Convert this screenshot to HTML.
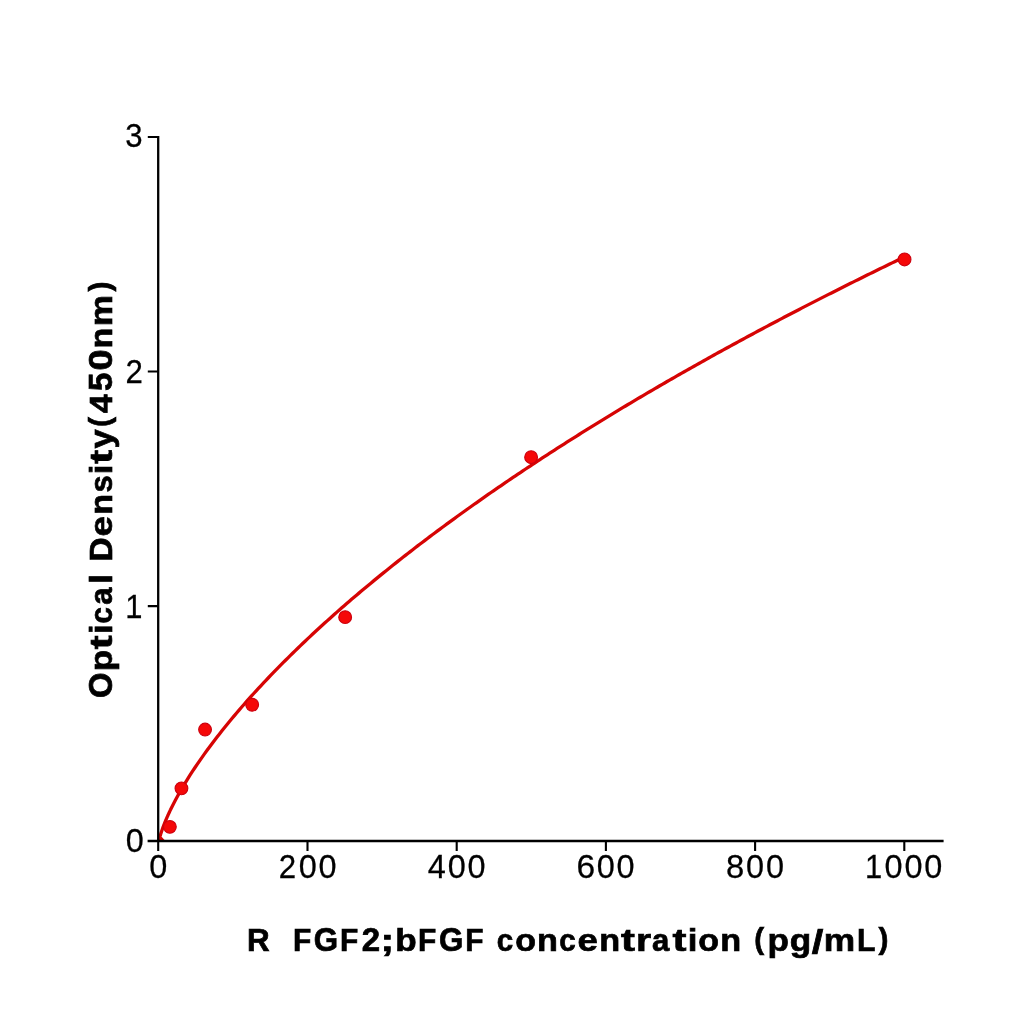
<!DOCTYPE html>
<html><head><meta charset="utf-8"><style>
html,body{margin:0;padding:0;background:#fff;}
svg{display:block;}
text{font-family:"Liberation Sans",sans-serif;fill:#000;}
</style></head><body>
<svg width="1024" height="1024" viewBox="0 0 1024 1024">
<rect width="1024" height="1024" fill="#fff"/>

<path d="M159.0,841.5 L159.4,836 L160.38,835.25 L160.63,834.40 L160.88,833.58 L161.14,832.78 L161.39,832.00 L161.64,831.23 L161.89,830.48 L162.15,829.74 L162.40,829.02 L162.65,828.31 L162.91,827.61 L163.16,826.92 L163.41,826.25 L163.67,825.58 L163.92,824.92 L164.17,824.26 L164.42,823.62 L164.68,822.98 L164.93,822.35 L165.18,821.73 L165.44,821.11 L165.69,820.50 L165.94,819.90 L166.20,819.30 L166.45,818.70 L166.70,818.11 L166.95,817.53 L167.21,816.95 L167.46,816.38 L167.71,815.81 L167.97,815.24 L168.22,814.68 L168.47,814.13 L168.73,813.57 L168.98,813.02 L169.23,812.48 L169.48,811.94 L169.74,811.40 L169.99,810.86 L170.24,810.33 L170.50,809.81 L170.75,809.28 L171.00,808.76 L171.26,808.24 L171.51,807.72 L171.76,807.21 L172.01,806.70 L172.27,806.19 L172.52,805.69 L172.77,805.19 L173.03,804.69 L175.47,799.98 L177.92,795.47 L180.36,791.12 L182.81,786.91 L185.26,782.83 L187.70,778.86 L190.15,774.98 L192.59,771.20 L195.04,767.50 L197.49,763.88 L199.93,760.32 L202.38,756.83 L204.82,753.40 L207.27,750.03 L209.72,746.71 L212.16,743.44 L214.61,740.21 L217.06,737.03 L219.50,733.90 L221.95,730.80 L224.39,727.74 L226.84,724.72 L229.29,721.73 L231.73,718.77 L234.18,715.85 L236.62,712.96 L239.07,710.10 L241.52,707.27 L243.96,704.46 L246.41,701.68 L248.85,698.93 L251.30,696.20 L253.75,693.50 L256.19,690.82 L258.64,688.16 L261.08,685.52 L263.53,682.90 L265.98,680.31 L268.42,677.74 L270.87,675.18 L273.31,672.64 L275.76,670.13 L278.21,667.63 L280.65,665.15 L283.10,662.68 L285.55,660.23 L287.99,657.80 L290.44,655.39 L292.88,652.99 L295.33,650.61 L297.78,648.24 L300.22,645.88 L302.67,643.54 L305.11,641.22 L307.56,638.90 L310.01,636.60 L312.45,634.32 L314.90,632.05 L317.34,629.79 L319.79,627.54 L322.24,625.31 L324.68,623.08 L327.13,620.87 L329.57,618.67 L332.02,616.49 L334.47,614.31 L336.91,612.14 L339.36,609.99 L341.80,607.85 L344.25,605.71 L346.70,603.59 L349.14,601.48 L351.59,599.37 L354.03,597.28 L356.48,595.20 L358.93,593.13 L361.37,591.06 L363.82,589.01 L366.27,586.96 L368.71,584.93 L371.16,582.90 L373.60,580.88 L376.05,578.87 L378.50,576.87 L380.94,574.88 L383.39,572.89 L385.83,570.91 L388.28,568.95 L390.73,566.99 L393.17,565.03 L395.62,563.09 L398.06,561.15 L400.51,559.22 L402.96,557.30 L405.40,555.39 L407.85,553.48 L410.29,551.58 L412.74,549.69 L415.19,547.81 L417.63,545.93 L420.08,544.06 L422.52,542.19 L424.97,540.33 L427.42,538.48 L429.86,536.64 L432.31,534.80 L434.76,532.97 L437.20,531.15 L439.65,529.33 L442.09,527.52 L444.54,525.71 L446.99,523.91 L449.43,522.12 L451.88,520.33 L454.32,518.55 L456.77,516.77 L459.22,515.00 L461.66,513.24 L464.11,511.48 L466.55,509.73 L469.00,507.98 L471.45,506.24 L473.89,504.51 L476.34,502.78 L478.78,501.05 L481.23,499.33 L483.68,497.62 L486.12,495.91 L488.57,494.21 L491.01,492.51 L493.46,490.82 L495.91,489.13 L498.35,487.44 L500.80,485.77 L503.25,484.09 L505.69,482.43 L508.14,480.76 L510.58,479.10 L513.03,477.45 L515.48,475.80 L517.92,474.16 L520.37,472.52 L522.81,470.88 L525.26,469.25 L527.71,467.63 L530.15,466.01 L532.60,464.39 L535.04,462.78 L537.49,461.17 L539.94,459.57 L542.38,457.97 L544.83,456.38 L547.27,454.79 L549.72,453.20 L552.17,451.62 L554.61,450.04 L557.06,448.47 L559.50,446.90 L561.95,445.33 L564.40,443.77 L566.84,442.21 L569.29,440.66 L571.73,439.11 L574.18,437.57 L576.63,436.03 L579.07,434.49 L581.52,432.96 L583.97,431.43 L586.41,429.90 L588.86,428.38 L591.30,426.86 L593.75,425.35 L596.20,423.84 L598.64,422.33 L601.09,420.83 L603.53,419.33 L605.98,417.83 L608.43,416.34 L610.87,414.85 L613.32,413.37 L615.76,411.88 L618.21,410.41 L620.66,408.93 L623.10,407.46 L625.55,405.99 L627.99,404.53 L630.44,403.07 L632.89,401.61 L635.33,400.15 L637.78,398.70 L640.22,397.26 L642.67,395.81 L645.12,394.37 L647.56,392.93 L650.01,391.50 L652.46,390.07 L654.90,388.64 L657.35,387.21 L659.79,385.79 L662.24,384.37 L664.69,382.96 L667.13,381.54 L669.58,380.14 L672.02,378.73 L674.47,377.33 L676.92,375.93 L679.36,374.53 L681.81,373.13 L684.25,371.74 L686.70,370.35 L689.15,368.97 L691.59,367.59 L694.04,366.21 L696.48,364.83 L698.93,363.46 L701.38,362.09 L703.82,360.72 L706.27,359.35 L708.71,357.99 L711.16,356.63 L713.61,355.27 L716.05,353.92 L718.50,352.57 L720.94,351.22 L723.39,349.87 L725.84,348.53 L728.28,347.19 L730.73,345.85 L733.18,344.52 L735.62,343.18 L738.07,341.85 L740.51,340.53 L742.96,339.20 L745.41,337.88 L747.85,336.56 L750.30,335.24 L752.74,333.93 L755.19,332.62 L757.64,331.31 L760.08,330.00 L762.53,328.70 L764.97,327.40 L767.42,326.10 L769.87,324.80 L772.31,323.51 L774.76,322.22 L777.20,320.93 L779.65,319.64 L782.10,318.35 L784.54,317.07 L786.99,315.79 L789.43,314.52 L791.88,313.24 L794.33,311.97 L796.77,310.70 L799.22,309.43 L801.67,308.16 L804.11,306.90 L806.56,305.64 L809.00,304.38 L811.45,303.13 L813.90,301.87 L816.34,300.62 L818.79,299.37 L821.23,298.12 L823.68,296.88 L826.13,295.63 L828.57,294.39 L831.02,293.16 L833.46,291.92 L835.91,290.69 L838.36,289.45 L840.80,288.22 L843.25,287.00 L845.69,285.77 L848.14,284.55 L850.59,283.33 L853.03,282.11 L855.48,280.89 L857.92,279.68 L860.37,278.46 L862.82,277.25 L865.26,276.04 L867.71,274.84 L870.16,273.63 L872.60,272.43 L875.05,271.23 L877.49,270.03 L879.94,268.83 L882.39,267.64 L884.83,266.45 L887.28,265.26 L889.72,264.07 L892.17,262.88 L894.62,261.70 L897.06,260.52 L899.51,259.33 L901.95,258.16 L904.40,256.98" fill="none" stroke="#d60404" stroke-width="3.3" stroke-linejoin="round"/>
<path d="M159.2,834 L165.2,840.8 L159.2,840.8 Z" fill="#d60404"/>
<g fill="#f50808" stroke="#cc000e" stroke-width="1.1"><circle cx="169.86" cy="826.86" r="6.4"/><circle cx="181.45" cy="788.35" r="6.4"/><circle cx="205.06" cy="729.57" r="6.4"/><circle cx="252.16" cy="704.74" r="6.4"/><circle cx="345.16" cy="617.13" r="6.4"/><circle cx="531.1" cy="457.2" r="6.4"/><circle cx="904.55" cy="259.45" r="6.4"/></g>
<g stroke="#000" stroke-width="2.3" fill="none" stroke-linecap="butt">
<path d="M158.2,135.9 L158.2,842.1"/>
<path d="M147.6,841.0 L943.6,841.0"/>
</g>
<g stroke="#000" stroke-width="2.1" fill="none" stroke-linecap="butt">
<path d="M147.8,137 L158.2,137 M147.8,606.1 L158.2,606.1 M147.8,371.5 L158.2,371.5"/>
<path d="M158.2,841 L158.2,851 M307.5,841 L307.5,851 M456.7,841 L456.7,851 M605.9,841 L605.9,851 M755.1,841 L755.1,851 M904.3,841 L904.3,851"/>
</g>
<g font-size="32" stroke="#000" stroke-width="0.25" style="filter:grayscale(1)">
<text transform="matrix(1.0141,0.0000,0.0000,1.0332,149.226,878.395)">0</text>
<text transform="matrix(0.9761,0.0000,0.0000,1.0278,278.736,878.275)">2</text>
<text transform="matrix(1.0141,0.0000,0.0000,1.0332,298.712,878.395)">0</text>
<text transform="matrix(1.0141,0.0000,0.0000,1.0332,318.613,878.395)">0</text>
<text transform="matrix(1.0150,0.0000,0.0000,1.0244,427.780,878.275)">4</text>
<text transform="matrix(1.0141,0.0000,0.0000,1.0332,447.694,878.395)">0</text>
<text transform="matrix(1.0141,0.0000,0.0000,1.0332,467.595,878.395)">0</text>
<text transform="matrix(1.0495,0.0000,0.0000,1.0332,576.448,878.395)">6</text>
<text transform="matrix(1.0141,0.0000,0.0000,1.0332,596.665,878.395)">0</text>
<text transform="matrix(1.0141,0.0000,0.0000,1.0332,616.567,878.395)">0</text>
<text transform="matrix(1.0249,0.0000,0.0000,1.0332,725.998,878.395)">8</text>
<text transform="matrix(1.0141,0.0000,0.0000,1.0332,745.996,878.395)">0</text>
<text transform="matrix(1.0141,0.0000,0.0000,1.0332,765.897,878.395)">0</text>
<text transform="matrix(0.9660,0.0000,0.0000,1.0244,864.875,878.275)">1</text>
<text transform="matrix(1.0141,0.0000,0.0000,1.0332,884.488,878.395)">0</text>
<text transform="matrix(1.0141,0.0000,0.0000,1.0332,904.390,878.395)">0</text>
<text transform="matrix(1.0141,0.0000,0.0000,1.0332,924.291,878.395)">0</text>
<text transform="matrix(0.9731,0.0000,0.0000,1.0332,125.312,147.495)">3</text>
<text transform="matrix(0.9761,0.0000,0.0000,1.0278,125.615,382.775)">2</text>
<text transform="matrix(0.9660,0.0000,0.0000,1.0244,125.251,617.775)">1</text>
<text transform="matrix(1.0141,0.0000,0.0000,1.0332,125.786,851.595)">0</text>
</g>
<g font-size="32" font-weight="bold" stroke="#000" stroke-width="0.7" style="filter:grayscale(1)">
<text transform="matrix(0.9801,0.0000,0.0000,1.0050,246.900,950.950)">R</text>
<text transform="matrix(0.9353,0.0000,0.0000,1.0050,292.906,950.950)">F</text>
<text transform="matrix(0.9786,0.0000,0.0000,1.0143,313.697,951.076)">G</text>
<text transform="matrix(0.9353,0.0000,0.0000,1.0050,339.993,950.950)">F</text>
<text transform="matrix(1.0312,0.0000,0.0000,1.0087,361.842,950.950)">2</text>
<text transform="matrix(1.2854,0.0000,0.0000,0.9887,380.593,950.502)">;</text>
<text transform="matrix(1.0962,0.0000,0.0000,1.0013,395.133,951.080)">b</text>
<text transform="matrix(0.9353,0.0000,0.0000,1.0050,418.100,950.950)">F</text>
<text transform="matrix(0.9786,0.0000,0.0000,1.0143,438.891,951.076)">G</text>
<text transform="matrix(0.9353,0.0000,0.0000,1.0050,465.188,950.950)">F</text>
<text transform="matrix(0.9238,0.0000,0.0000,0.9856,496.795,951.085)">c</text>
<text transform="matrix(1.0629,0.0000,0.0000,0.9856,515.180,951.085)">o</text>
<text transform="matrix(1.0687,0.0000,0.0000,0.9769,537.049,950.950)">n</text>
<text transform="matrix(0.9238,0.0000,0.0000,0.9856,559.155,951.085)">c</text>
<text transform="matrix(1.1439,0.0000,0.0000,0.9856,577.439,951.085)">e</text>
<text transform="matrix(1.0687,0.0000,0.0000,0.9769,599.134,950.950)">n</text>
<text transform="matrix(1.3079,0.0000,0.0000,1.0061,621.061,950.667)">t</text>
<text transform="matrix(1.2191,0.0000,0.0000,0.9769,636.074,950.950)">r</text>
<text transform="matrix(0.9741,0.0000,0.0000,0.9856,651.889,951.085)">a</text>
<text transform="matrix(1.3079,0.0000,0.0000,1.0061,672.597,950.667)">t</text>
<text transform="matrix(1.0871,0.0000,0.0000,0.9957,687.753,950.950)">i</text>
<text transform="matrix(1.0629,0.0000,0.0000,0.9856,698.301,951.085)">o</text>
<text transform="matrix(1.0687,0.0000,0.0000,0.9769,720.170,950.950)">n</text>
<text transform="matrix(0.9314,0.0000,0.0000,0.9114,754.191,949.025)">(</text>
<text transform="matrix(1.0962,0.0000,0.0000,0.9767,767.612,950.977)">p</text>
<text transform="matrix(1.0983,0.0000,0.0000,0.9811,789.672,951.054)">g</text>
<text transform="matrix(1.2988,0.0000,0.0000,1.0504,811.714,953.182)">/</text>
<text transform="matrix(1.1022,0.0000,0.0000,0.9769,823.829,950.950)">m</text>
<text transform="matrix(0.9451,0.0000,0.0000,1.0050,857.031,950.950)">L</text>
<text transform="matrix(0.9314,0.0000,0.0000,0.9114,878.609,949.025)">)</text>
<text transform="matrix(0.0000,-1.0230,1.0127,0.0000,111.976,697.984)">O</text>
<text transform="matrix(0.0000,-1.0944,0.9750,0.0000,111.877,671.307)">p</text>
<text transform="matrix(0.0000,-1.3057,1.0044,0.0000,111.568,649.235)">t</text>
<text transform="matrix(0.0000,-1.0851,0.9941,0.0000,111.850,634.104)">i</text>
<text transform="matrix(0.0000,-0.9223,0.9840,0.0000,111.985,623.399)">c</text>
<text transform="matrix(0.0000,-0.9725,0.9840,0.0000,111.985,604.628)">a</text>
<text transform="matrix(0.0000,-1.0851,0.9941,0.0000,111.850,583.764)">l</text>
<text transform="matrix(0.0000,-1.0571,1.0033,0.0000,111.850,561.760)">D</text>
<text transform="matrix(0.0000,-1.1420,0.9840,0.0000,111.985,536.503)">e</text>
<text transform="matrix(0.0000,-1.0669,0.9752,0.0000,111.850,514.842)">n</text>
<text transform="matrix(0.0000,-0.9641,0.9831,0.0000,111.985,492.429)">s</text>
<text transform="matrix(0.0000,-1.0851,0.9941,0.0000,111.850,474.155)">i</text>
<text transform="matrix(0.0000,-1.3057,1.0044,0.0000,111.568,463.629)">t</text>
<text transform="matrix(0.0000,-1.0780,0.9828,0.0000,112.070,448.586)">y</text>
<text transform="matrix(0.0000,-0.9298,0.9099,0.0000,109.929,427.116)">(</text>
<text transform="matrix(0.0000,-1.0625,1.0033,0.0000,111.850,413.145)">4</text>
<text transform="matrix(0.0000,-1.0336,1.0091,0.0000,111.977,390.889)">5</text>
<text transform="matrix(0.0000,-1.1866,1.0127,0.0000,111.976,370.539)">0</text>
<text transform="matrix(0.0000,-1.0669,0.9752,0.0000,111.850,348.407)">n</text>
<text transform="matrix(0.0000,-1.1004,0.9752,0.0000,111.850,326.254)">m</text>
<text transform="matrix(0.0000,-0.9298,0.9099,0.0000,109.929,291.481)">)</text>
</g>
</svg>
</body></html>
